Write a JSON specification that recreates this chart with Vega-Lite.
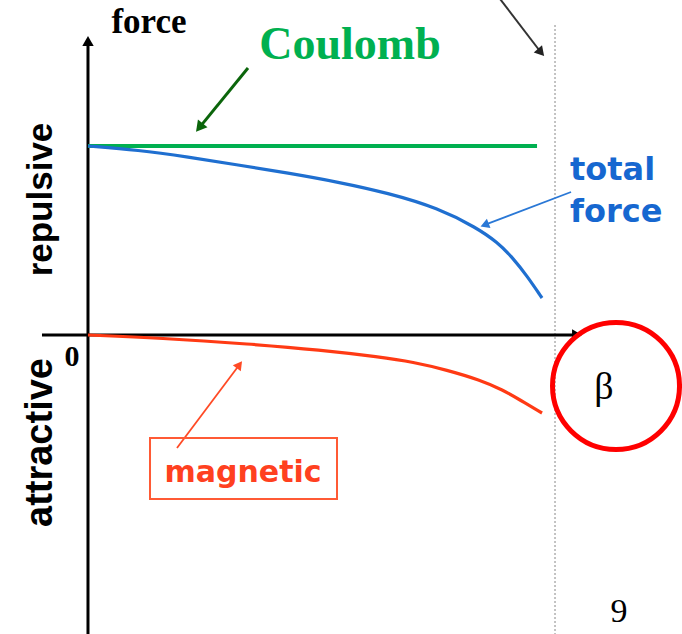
{
  "$schema": "https://vega.github.io/schema/vega-lite/v6.json",
  "width": 682,
  "height": 634,
  "autosize": {"type": "none"},
  "padding": 0,
  "background": "white",
  "config": {"view": {"stroke": null}},
  "datasets": {
    "curves": [
      {"series": "Coulomb", "beta": 0, "force": 1.0},
      {"series": "Coulomb", "beta": 0.9615, "force": 1.0},
      {"series": "total force", "beta": 0, "force": 1.0},
      {"series": "total force", "beta": 0.1071, "force": 0.9788},
      {"series": "total force", "beta": 0.2141, "force": 0.9418},
      {"series": "total force", "beta": 0.3212, "force": 0.8995},
      {"series": "total force", "beta": 0.4283, "force": 0.8571},
      {"series": "total force", "beta": 0.5353, "force": 0.8095},
      {"series": "total force", "beta": 0.6424, "force": 0.7513},
      {"series": "total force", "beta": 0.7495, "force": 0.672},
      {"series": "total force", "beta": 0.833, "force": 0.5661},
      {"series": "total force", "beta": 0.8758, "force": 0.4921},
      {"series": "total force", "beta": 0.9101, "force": 0.4074},
      {"series": "total force", "beta": 0.94, "force": 0.3122},
      {"series": "total force", "beta": 0.9722, "force": 0.1958},
      {"series": "magnetic", "beta": 0, "force": 0},
      {"series": "magnetic", "beta": 0.1542, "force": -0.0159},
      {"series": "magnetic", "beta": 0.3469, "force": -0.0476},
      {"series": "magnetic", "beta": 0.4968, "force": -0.0794},
      {"series": "magnetic", "beta": 0.6253, "force": -0.1164},
      {"series": "magnetic", "beta": 0.6959, "force": -0.1429},
      {"series": "magnetic", "beta": 0.7687, "force": -0.1852},
      {"series": "magnetic", "beta": 0.8394, "force": -0.2381},
      {"series": "magnetic", "beta": 0.8887, "force": -0.291},
      {"series": "magnetic", "beta": 0.9251, "force": -0.3439},
      {"series": "magnetic", "beta": 0.9722, "force": -0.4127}
    ],
    "guides": [
      {"id": "yaxis", "beta": 0, "force": -1.582},
      {"id": "yaxis", "beta": 0, "force": 1.5556},
      {"id": "xaxis", "beta": -0.0985, "force": 0},
      {"id": "xaxis", "beta": 1.0471, "force": 0},
      {"id": "limit", "beta": 1.0, "force": 1.64},
      {"id": "limit", "beta": 1.0, "force": -1.582}
    ],
    "pointers": [
      {"id": "black", "beta": 0.8758, "force": 1.799},
      {"id": "black", "beta": 0.97, "force": 1.4947},
      {"id": "green", "beta": 0.3426, "force": 1.4127},
      {"id": "green", "beta": 0.2385, "force": 1.0974},
      {"id": "blue", "beta": 1.0343, "force": 0.7566},
      {"id": "blue", "beta": 0.8493, "force": 0.5825},
      {"id": "red", "beta": 0.1906, "force": -0.5979},
      {"id": "red", "beta": 0.3242, "force": -0.1577}
    ],
    "heads": [
      {"id": "yaxis", "beta": 0, "force": 1.5556},
      {"id": "xaxis", "beta": 1.0471, "force": 0},
      {"id": "black", "beta": 0.97, "force": 1.4947},
      {"id": "green", "beta": 0.2385, "force": 1.0974},
      {"id": "blue", "beta": 0.8493, "force": 0.5825},
      {"id": "red", "beta": 0.3242, "force": -0.1577}
    ],
    "labels": [
      {"id": "force", "text": "force", "beta": 0.1306, "force": 1.6561},
      {"id": "Coulomb", "text": "Coulomb", "beta": 0.561, "force": 1.5344},
      {"id": "total", "text": "total", "beta": 1.0321, "force": 0.8201},
      {"id": "total2", "text": "force", "beta": 1.0321, "force": 0.5979},
      {"id": "magnetic", "text": "magnetic", "beta": 0.3319, "force": -0.7778},
      {"id": "repulsive", "text": "repulsive", "beta": -0.0771, "force": 0.7169},
      {"id": "attractive", "text": "attractive", "beta": -0.0771, "force": -0.5688},
      {"id": "zero", "text": "0", "beta": -0.0343, "force": -0.1164},
      {"id": "beta", "text": "β", "beta": 1.1049, "force": -0.2804},
      {"id": "page", "text": "9", "beta": 1.137, "force": -1.4656}
    ],
    "box": [
      {"beta": 0.1328, "beta2": 0.5332, "force": -0.545, "force2": -0.8677}
    ],
    "circle": [
      {"beta": 1.1306, "force": -0.2698}
    ]
  },
  "encoding": {
    "x": {"field": "beta", "type": "quantitative", "scale": {"domain": [-0.1884, 1.2719], "nice": false, "zero": false}, "axis": null},
    "y": {"field": "force", "type": "quantitative", "scale": {"domain": [-1.582, 1.7725], "nice": false, "zero": false}, "axis": null}
  },
  "layer": [
    {"data": {"name": "guides"}, "transform": [{"filter": "datum.id === 'limit'"}],
     "mark": {"type": "line", "color": "#b0b0b0", "strokeWidth": 1.5, "strokeDash": [2, 2]}},
    {"data": {"name": "guides"}, "transform": [{"filter": "datum.id === 'yaxis'"}],
     "mark": {"type": "line", "color": "black", "strokeWidth": 3}},
    {"data": {"name": "guides"}, "transform": [{"filter": "datum.id === 'xaxis'"}],
     "mark": {"type": "line", "color": "black", "strokeWidth": 3}},
    {"data": {"name": "curves"}, "transform": [{"filter": "datum.series === 'Coulomb'"}],
     "mark": {"type": "line", "color": "#00b050", "strokeWidth": 4}},
    {"data": {"name": "curves"}, "transform": [{"filter": "datum.series === 'total force'"}],
     "mark": {"type": "line", "color": "#1f6fd0", "strokeWidth": 3.2, "interpolate": "basis"}},
    {"data": {"name": "curves"}, "transform": [{"filter": "datum.series === 'magnetic'"}],
     "mark": {"type": "line", "color": "#ff3a14", "strokeWidth": 3.2, "interpolate": "basis"}},
    {"data": {"name": "pointers"}, "transform": [{"filter": "datum.id === 'black'"}],
     "mark": {"type": "line", "color": "#333333", "strokeWidth": 2, "clip": true}},
    {"data": {"name": "pointers"}, "transform": [{"filter": "datum.id === 'green'"}],
     "mark": {"type": "line", "color": "#0b650b", "strokeWidth": 3}},
    {"data": {"name": "pointers"}, "transform": [{"filter": "datum.id === 'blue'"}],
     "mark": {"type": "line", "color": "#2a78d6", "strokeWidth": 1.8}},
    {"data": {"name": "pointers"}, "transform": [{"filter": "datum.id === 'red'"}],
     "mark": {"type": "line", "color": "#ff4a25", "strokeWidth": 1.8}},
    {"data": {"name": "heads"}, "transform": [{"filter": "datum.id === 'yaxis'"}],
     "mark": {"type": "point", "shape": "triangle-up", "filled": true, "color": "black", "size": 130, "angle": 0, "opacity": 1}},
    {"data": {"name": "heads"}, "transform": [{"filter": "datum.id === 'xaxis'"}],
     "mark": {"type": "point", "shape": "triangle-up", "filled": true, "color": "black", "size": 130, "angle": 90, "opacity": 1}},
    {"data": {"name": "heads"}, "transform": [{"filter": "datum.id === 'black'"}],
     "mark": {"type": "point", "shape": "triangle-up", "filled": true, "color": "#222222", "size": 120, "angle": 139, "opacity": 1}},
    {"data": {"name": "heads"}, "transform": [{"filter": "datum.id === 'green'"}],
     "mark": {"type": "point", "shape": "triangle-up", "filled": true, "color": "#0b650b", "size": 150, "angle": 219, "opacity": 1}},
    {"data": {"name": "heads"}, "transform": [{"filter": "datum.id === 'blue'"}],
     "mark": {"type": "point", "shape": "triangle-up", "filled": true, "color": "#2a78d6", "size": 100, "angle": 249, "opacity": 1}},
    {"data": {"name": "heads"}, "transform": [{"filter": "datum.id === 'red'"}],
     "mark": {"type": "point", "shape": "triangle-up", "filled": true, "color": "#ff4a25", "size": 100, "angle": 37, "opacity": 1}},
    {"data": {"name": "box"},
     "mark": {"type": "rect", "fill": null, "stroke": "#ff5a35", "strokeWidth": 2},
     "encoding": {"x2": {"field": "beta2"}, "y2": {"field": "force2"}}},
    {"data": {"name": "circle"},
     "mark": {"type": "point", "shape": "circle", "filled": false, "color": "#ff0000", "strokeWidth": 5, "size": 16129, "opacity": 1}},
    {"data": {"name": "labels"}, "transform": [{"filter": "datum.id === 'force'"}],
     "mark": {"type": "text", "font": "Liberation Serif", "fontWeight": "bold", "fontSize": 35, "color": "black", "align": "center", "baseline": "middle"},
     "encoding": {"text": {"field": "text"}}},
    {"data": {"name": "labels"}, "transform": [{"filter": "datum.id === 'Coulomb'"}],
     "mark": {"type": "text", "font": "Liberation Serif", "fontWeight": "bold", "fontSize": 46, "color": "#00b050", "align": "center", "baseline": "middle"},
     "encoding": {"text": {"field": "text"}}},
    {"data": {"name": "labels"}, "transform": [{"filter": "datum.id === 'total' || datum.id === 'total2'"}],
     "mark": {"type": "text", "font": "DejaVu Sans", "fontWeight": "bold", "fontSize": 32, "color": "#1667d0", "align": "left", "baseline": "alphabetic"},
     "encoding": {"text": {"field": "text"}}},
    {"data": {"name": "labels"}, "transform": [{"filter": "datum.id === 'magnetic'"}],
     "mark": {"type": "text", "font": "DejaVu Sans", "fontWeight": "bold", "fontSize": 30, "color": "#ff4020", "align": "center", "baseline": "alphabetic"},
     "encoding": {"text": {"field": "text"}}},
    {"data": {"name": "labels"}, "transform": [{"filter": "datum.id === 'repulsive'"}],
     "mark": {"type": "text", "font": "Liberation Sans", "fontWeight": "bold", "fontSize": 35, "color": "black", "align": "center", "baseline": "alphabetic", "angle": 270},
     "encoding": {"text": {"field": "text"}}},
    {"data": {"name": "labels"}, "transform": [{"filter": "datum.id === 'attractive'"}],
     "mark": {"type": "text", "font": "Liberation Sans", "fontWeight": "bold", "fontSize": 38, "color": "black", "align": "center", "baseline": "alphabetic", "angle": 270},
     "encoding": {"text": {"field": "text"}}},
    {"data": {"name": "labels"}, "transform": [{"filter": "datum.id === 'zero'"}],
     "mark": {"type": "text", "font": "Liberation Serif", "fontWeight": "bold", "fontSize": 30, "color": "black", "align": "center", "baseline": "middle"},
     "encoding": {"text": {"field": "text"}}},
    {"data": {"name": "labels"}, "transform": [{"filter": "datum.id === 'beta'"}],
     "mark": {"type": "text", "font": "Liberation Serif", "fontSize": 38, "color": "black", "align": "center", "baseline": "middle"},
     "encoding": {"text": {"field": "text"}}},
    {"data": {"name": "labels"}, "transform": [{"filter": "datum.id === 'page'"}],
     "mark": {"type": "text", "font": "Liberation Serif", "fontSize": 34, "color": "black", "align": "center", "baseline": "middle"},
     "encoding": {"text": {"field": "text"}}}
  ]
}
